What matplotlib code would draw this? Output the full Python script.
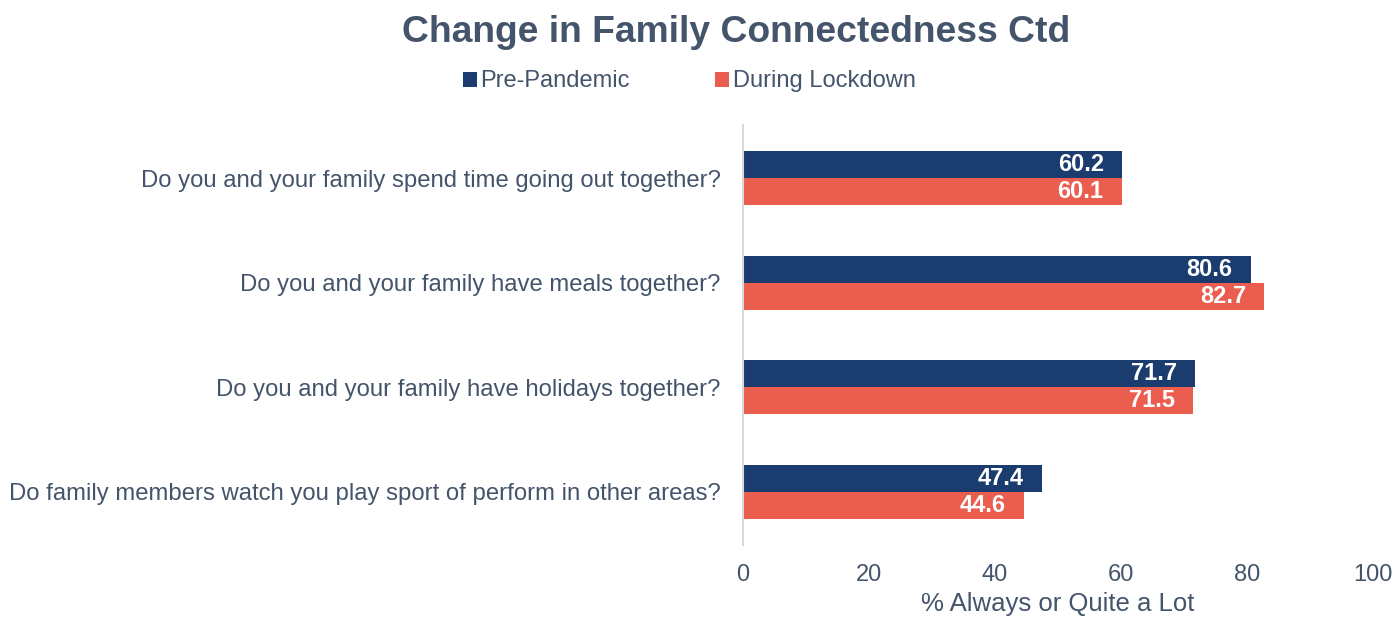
import matplotlib.pyplot as plt
import matplotlib as mpl
import numpy as np

mpl.rcParams['font.family'] = ['Liberation Sans', 'DejaVu Sans']

questions = ['Do you and your family spend time going out together?',
             'Do you and your family have meals together?',
             'Do you and your family have holidays together?',
             'Do family members watch you play sport of perform in other areas?']
pre_pandemic = [60.2, 80.6, 71.7, 47.4]
during_lockdown = [60.1, 82.7, 71.5, 44.6]

txt_col = '#44546A'
navy = '#1B3C6E'
red = '#EA5D4F'

fig = plt.figure(figsize=(13.95, 6.21), dpi=100)
ax = fig.add_axes([0.5326, 0.1224, 0.4516, 0.6763])

y = np.arange(len(questions))
h = 0.26
b1 = ax.barh(y - h / 2, pre_pandemic, height=h, color=navy, label='Pre-Pandemic')
b2 = ax.barh(y + h / 2, during_lockdown, height=h, color=red, label='During Lockdown')

for bars in (b1, b2):
    ax.bar_label(bars, fmt='%.1f', padding=-13, label_type='edge', color='white',
                 fontsize=17, fontweight='bold')
    for t in ax.texts[-len(questions):]:
        t.set_ha('right')

ax.set_ylim(3.51, -0.51)
ax.set_xlim(0, 100)
ax.set_yticks(y, questions)
ax.set_xticks(range(0, 101, 20))
ax.tick_params(length=0, labelsize=17, colors=txt_col, pad=14)
ax.tick_params(axis='y', labelsize=17.2, pad=16)
for s in ['top', 'right', 'bottom']:
    ax.spines[s].set_visible(False)
ax.spines['left'].set_color('#D9D9D9')
ax.spines['left'].set_linewidth(1.5)
ax.set_xlabel('% Always or Quite a Lot', fontsize=18.5, color=txt_col, labelpad=4)

fig.text(0.5276, 0.947, 'Change in Family Connectedness Ctd', ha='center', va='center',
         fontsize=26.8, fontweight='bold', color=txt_col)
fig.legend(loc='center', bbox_to_anchor=(0.494, 0.869), ncol=2, frameon=False,
           fontsize=17, labelcolor=txt_col, handlelength=0.6, handleheight=0.6,
           handletextpad=0.15, columnspacing=3.6)

plt.savefig('out.png', dpi=100)
